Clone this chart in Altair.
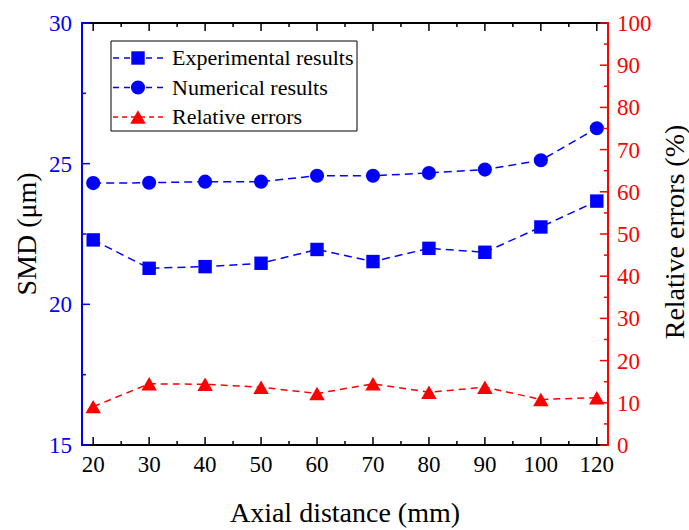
import altair as alt
import pandas as pd

# ---------------- data ----------------
x_labels = ["20", "30", "40", "50", "60", "70", "80", "90", "100", "120"]
exp_smd = [22.29, 21.28, 21.34, 21.46, 21.95, 21.52, 21.99, 21.85, 22.75, 23.67]
num_smd = [24.31, 24.32, 24.36, 24.36, 24.57, 24.57, 24.67, 24.79, 25.12, 26.26]
rel_err = [9.1, 14.5, 14.4, 13.7, 12.2, 14.5, 12.5, 13.7, 10.8, 11.2]

legend_labels = ["Experimental results", "Numerical results", "Relative errors"]
x_title = "Axial distance (mm)"
left_title = "SMD (μm)"
right_title = "Relative errors (%)"

left_major = [15, 20, 25, 30]
left_minor = [17.5, 22.5, 27.5]
right_major = [0, 10, 20, 30, 40, 50, 60, 70, 80, 90, 100]
right_minor = [5, 15, 25, 35, 45, 55, 65, 75, 85, 95]

# ---------------- styling ----------------
FONT = "Liberation Serif"
BLUE = "#0000ff"
RED = "#ff0000"
W, H = 526, 422
MAJ, MIN = 8, 4
TICK_FS, TITLE_FS = 23, 28

idx = list(range(len(x_labels)))
x_minor = [i + 0.5 for i in idx[:-1]]
df = pd.DataFrame({"idx": idx, "label": x_labels, "exp": exp_smd,
                   "num": num_smd, "err": rel_err})

x_scale = alt.Scale(domain=[-0.2, len(x_labels) - 0.8], nice=False, zero=False)
left_scale = alt.Scale(domain=[15, 30], nice=False, zero=False)
right_scale = alt.Scale(domain=[0, 100], nice=False, zero=False)


def XF(field):
    return alt.X(field, scale=x_scale, axis=None)


def YL(field):
    return alt.Y(field, scale=left_scale, axis=None)


def YR(field):
    return alt.Y(field, scale=right_scale, axis=None)


base = alt.Chart(df)
one = pd.DataFrame({"a": [0]})
layers = []

# ---- axis lines (frame) ----
layers.append(alt.Chart(one).mark_rule(color="black", strokeWidth=2).encode(
    x=alt.value(0), x2=alt.value(W), y=alt.value(0)))
layers.append(alt.Chart(one).mark_rule(color="black", strokeWidth=2).encode(
    x=alt.value(0), x2=alt.value(W), y=alt.value(H)))
layers.append(alt.Chart(one).mark_rule(color=BLUE, strokeWidth=2).encode(
    x=alt.value(0), y=alt.value(-1), y2=alt.value(H + 1)))
layers.append(alt.Chart(one).mark_rule(color=RED, strokeWidth=2).encode(
    x=alt.value(W), y=alt.value(-1), y2=alt.value(H + 1)))

# ---- inward ticks ----
for vals, L in ((left_major, MAJ), (left_minor, MIN)):
    layers.append(alt.Chart(pd.DataFrame({"v": vals})).mark_rule(
        color=BLUE, strokeWidth=1.5).encode(
        y=YL("v:Q"), x=alt.value(0), x2=alt.value(L)))
for vals, L in ((right_major, MAJ), (right_minor, MIN)):
    layers.append(alt.Chart(pd.DataFrame({"v": vals})).mark_rule(
        color=RED, strokeWidth=1.5).encode(
        y=YR("v:Q"), x=alt.value(W), x2=alt.value(W - L)))
for vals, L in ((idx, MAJ), (x_minor, MIN)):
    d = pd.DataFrame({"idx": vals})
    layers.append(alt.Chart(d).mark_rule(color="black", strokeWidth=1.5).encode(
        x=XF("idx:Q"), y=alt.value(H), y2=alt.value(H - L)))
    layers.append(alt.Chart(d).mark_rule(color="black", strokeWidth=1.5).encode(
        x=XF("idx:Q"), y=alt.value(0), y2=alt.value(L)))

# ---- tick labels ----
layers.append(base.mark_text(font=FONT, fontSize=TICK_FS, color="black",
                             align="center", baseline="alphabetic").encode(
    x=XF("idx:Q"), y=alt.value(H + 27), text="label:N"))
layers.append(alt.Chart(pd.DataFrame({"v": left_major})).mark_text(
    font=FONT, fontSize=TICK_FS, color=BLUE, align="right",
    baseline="middle", dy=1).encode(
    y=YL("v:Q"), x=alt.value(-10), text=alt.Text("v:Q", format="d")))
layers.append(alt.Chart(pd.DataFrame({"v": right_major})).mark_text(
    font=FONT, fontSize=TICK_FS, color=RED, align="left",
    baseline="middle", dy=1).encode(
    y=YR("v:Q"), x=alt.value(W + 9), text=alt.Text("v:Q", format="d")))

# ---- axis titles ----
layers.append(alt.Chart(one).mark_text(font=FONT, fontSize=TITLE_FS,
                                       color="black", align="center",
                                       baseline="alphabetic").encode(
    x=alt.value(W / 2), y=alt.value(H + 77), text=alt.value(x_title)))
layers.append(alt.Chart(one).mark_text(font=FONT, fontSize=TITLE_FS,
                                       color="black", align="center",
                                       baseline="alphabetic", angle=270).encode(
    x=alt.value(-46), y=alt.value(H / 2), text=alt.value(left_title)))
layers.append(alt.Chart(one).mark_text(font=FONT, fontSize=TITLE_FS,
                                       color="black", align="center",
                                       baseline="alphabetic", angle=270).encode(
    x=alt.value(W + 76), y=alt.value(H / 2 - 2), text=alt.value(right_title)))

# ---- data lines ----
layers.append(base.mark_line(color=BLUE, strokeWidth=1.5, strokeDash=[8, 5]).encode(
    x=XF("idx:Q"), y=YL("num:Q")))
layers.append(base.mark_line(color=BLUE, strokeWidth=1.5, strokeDash=[8, 5]).encode(
    x=XF("idx:Q"), y=YL("exp:Q")))
layers.append(base.mark_line(color=RED, strokeWidth=1.5, strokeDash=[7, 5]).encode(
    x=XF("idx:Q"), y=YR("err:Q")))

# ---- markers ----
layers.append(base.mark_point(shape="circle", filled=True, size=200, color=BLUE,
                              opacity=1).encode(x=XF("idx:Q"), y=YL("num:Q")))
layers.append(base.mark_point(shape="square", filled=True, size=180, color=BLUE,
                              opacity=1).encode(x=XF("idx:Q"), y=YL("exp:Q")))
layers.append(base.mark_point(shape="triangle-up", filled=True, size=240,
                              color=RED, opacity=1).encode(x=XF("idx:Q"),
                                                           y=YR("err:Q")))

# ---- legend ----
layers.append(alt.Chart(one).mark_rect(fill="white", stroke="black",
                                       strokeWidth=1).encode(
    x=alt.value(29), x2=alt.value(275), y=alt.value(18), y2=alt.value(108)))
leg_style = [(BLUE, "square", 180, [6, 5]), (BLUE, "circle", 200, [6, 5]),
             (RED, "triangle-up", 240, [5, 4])]
for i, (lab, (col, shp, sz, dash)) in enumerate(zip(legend_labels, leg_style)):
    ry = 35 + 29.5 * i
    layers.append(alt.Chart(one).mark_rule(color=col, strokeWidth=1.5,
                                           strokeDash=dash).encode(
        x=alt.value(31), x2=alt.value(85), y=alt.value(ry)))
    layers.append(alt.Chart(one).mark_point(shape=shp, filled=True, size=sz,
                                            color=col, opacity=1).encode(
        x=alt.value(56), y=alt.value(ry)))
    layers.append(alt.Chart(one).mark_text(align="left", baseline="middle",
                                           font=FONT, fontSize=22,
                                           color="black").encode(
        x=alt.value(90), y=alt.value(ry), text=alt.value(lab)))

chart = alt.layer(*layers).resolve_scale(
    y="independent"
).properties(
    width=W, height=H,
    padding={"left": 82, "top": 23, "right": 81, "bottom": 85},
    autosize=alt.AutoSizeParams(type="none"),
    background="white",
).configure_view(stroke=None)

chart.save("out.html", embed_options={"renderer": "svg", "actions": False})
